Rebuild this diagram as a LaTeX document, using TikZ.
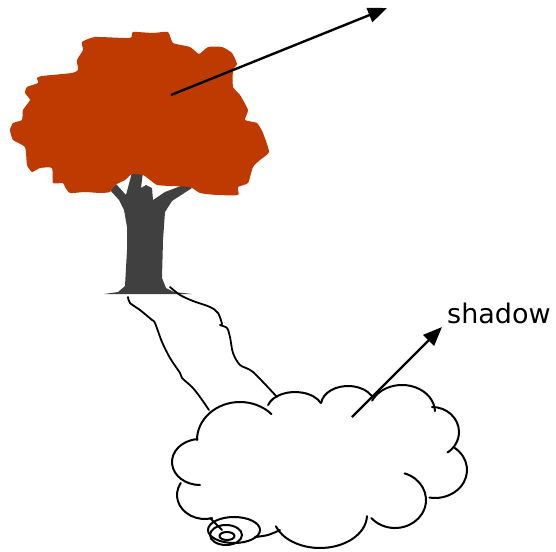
\documentclass[tikz,border=0pt]{standalone}
\usepackage{fontspec}
\newfontfamily\labelfont{DejaVu Sans}
\usetikzlibrary{arrows.meta}
\definecolor{crownred}{RGB}{191,58,0}
\definecolor{barkgray}{RGB}{64,64,64}
\tikzset{
   crown/.style={fill=crownred, draw=none},
   bark/.style={fill=barkgray, draw=none},
   edge/.style={draw=black, line width=2pt, line cap=round, line join=round},
   ray/.style={draw=black, line width=2.4pt, -{Triangle[length=19pt,width=15pt]}},
   tag/.style={font=\labelfont\fontsize{27}{32}\selectfont, inner sep=0pt, anchor=base west},
}
% one bump of the cloud: centre, x radius, y radius, start angle, end angle
\newcommand\cloudbump[5]{%
   \draw[edge] (#1) ++(#4:#2 and #3)
      arc[start angle=#4, end angle=#5, x radius=#2, y radius=#3];}

\begin{document}
\begin{tikzpicture}[x=1pt, y=-1pt]
   \useasboundingbox (0,0) rectangle (556,551);
   % trunk first, the crown covers its branches
   \fill[bark] (104,294) -- (118,292) -- (125,286) -- (127,250) -- (127,227)
      -- (124,210) -- (119,200) -- (110,190) -- (116,184) -- (126,195)
      -- (130,180) -- (132,172) -- (143,172) -- (141,188) -- (146,185)
      -- (152,188) -- (153,200) -- (165,192) -- (186,184) -- (192,188)
      -- (172,201) -- (165,212) -- (163,240) -- (162,278) -- (166,288)
      -- (174,292) -- (192,294) -- cycle;
   \fill[crown] plot[smooth cycle, tension=0.3] coordinates {
      (82,42) (95,37) (130,38) (133,32) (153,33) (168,32) (173,43) (190,47)
      (199,54) (208,47) (222,47) (232,53) (237,64) (233,70) (233,87) (240,95)
      (248,110) (245,120) (257,123) (263,133) (269,152) (260,160) (253,167)
      (248,183) (238,187) (238,195) (217,195) (200,193) (190,187) (170,186)
      (157,185) (150,180) (143,175) (132,174) (125,180) (115,185) (110,192)
      (100,193) (85,192) (70,193) (65,187) (63,183) (53,183) (52,168)
      (40,168) (32,172) (27,165) (25,147) (13,140) (10,130) (13,123)
      (22,120) (23,110) (30,100) (25,93) (27,87) (38,83) (37,78) (42,76)
      (72,73) (78,70) (77,60) (83,50)};
   \coordinate (crownmid) at (171,95);
   \coordinate (sky) at (387,8);
   \draw[ray] (crownmid) -- (sky);

   % shadow edges running from the foot of the trunk
   \draw[edge, line width=1.8pt] plot[smooth, tension=0.5] coordinates {
      (128,297) (130,303) (140,310) (152,320) (155,323) (162,342) (170,358)
      (180,373) (182,378) (192,387) (200,397) (209,410)};
   \draw[edge, line width=1.8pt] plot[smooth, tension=0.5] coordinates {
      (170,287) (180,295) (193,301) (210,307) (218,313) (222,324) (220,325)
      (227,328) (230,337) (233,353) (240,365) (253,372) (277,397)};

   % the cloud, bump by bump
   \cloudbump{240,440}{43}{38}{180}{317}
   \cloudbump{295,410}{28}{18}{196}{337}
   \cloudbump{348,405}{27}{19}{186}{330}
   \cloudbump{402,412}{33}{27}{205}{358}
   \cloudbump{432,432}{27}{25}{270}{415}
   \cloudbump{435,470}{32}{28}{308}{460}
   \cloudbump{395,500}{31}{28}{288}{500}
   \cloudbump{320,515}{47}{33}{2}{160}
   \cloudbump{205,495}{28}{24}{210}{75}
   \cloudbump{200,462}{28}{23}{265}{90}
   \draw[edge] plot[smooth] coordinates {(280,530) (268,535) (255,537)};
   % little curl at its lower left
   \draw[edge] (210,518) -- (222,530);
   \draw[edge] (234,530) ellipse [x radius=26, y radius=13];
   \draw[edge] (226,535) ellipse [x radius=16, y radius=10];
   \draw[edge] (227,536) ellipse [x radius=7.5, y radius=4];

   \node[tag] (shadow) at (447,323) {shadow};
   \coordinate (shadowfoot) at (352,417);
   \draw[ray] (shadowfoot) -- ([shift={(-5,4)}]shadow.base west);
\end{tikzpicture}
\end{document}
